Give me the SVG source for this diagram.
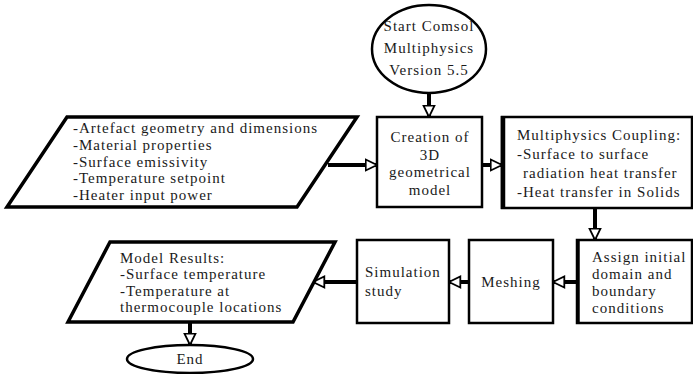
<svg xmlns="http://www.w3.org/2000/svg" width="693" height="374" viewBox="0 0 693 374">
<style>
.sh{fill:#fff;stroke:#000;stroke-width:2.5}
.pg{fill:#fff;stroke:#000;stroke-width:3.5;stroke-linejoin:miter}
text{font-family:'Liberation Serif',serif;font-size:15px;letter-spacing:1px;fill:#1a1a1a}
.c{text-anchor:middle}
.ln{stroke:#000;stroke-width:4;fill:none}
</style>
<defs>
<marker id="ah" viewBox="0 0 14 14" markerWidth="14" markerHeight="14" markerUnits="userSpaceOnUse" refX="12.5" refY="7" orient="auto">
<path d="M1.2,1.5 L12.5,7 L1.2,12.5 Z" fill="#fff" stroke="#000" stroke-width="1.8" stroke-linejoin="miter"/>
</marker>
</defs>
<rect width="693" height="374" fill="#fff"/>

<g id="connectors">
<line class="ln" x1="429" y1="93" x2="429" y2="117" marker-end="url(#ah)"/>
<line class="ln" x1="328" y1="165" x2="377" y2="165" marker-end="url(#ah)"/>
<line class="ln" x1="482" y1="165" x2="502" y2="165" marker-end="url(#ah)"/>
<line class="ln" x1="595" y1="208" x2="595" y2="240" marker-end="url(#ah)"/>
<line class="ln" x1="577" y1="282" x2="553" y2="282" marker-end="url(#ah)"/>
<line class="ln" x1="469" y1="282" x2="449" y2="282" marker-end="url(#ah)"/>
<line class="ln" x1="357" y1="282" x2="313" y2="282" marker-end="url(#ah)"/>
<line class="ln" x1="190" y1="322" x2="190" y2="345" marker-end="url(#ah)"/>
</g>

<g id="start">
<ellipse class="sh" cx="429" cy="49" rx="57" ry="44"/>
<text class="c" x="429" y="31">Start Comsol</text>
<text class="c" x="429" y="53">Multiphysics</text>
<text class="c" x="429" y="75">Version 5.5</text>
</g>

<g id="inputs">
<polygon class="pg" points="67,117 357,117 297,207 7,207"/>
<text x="73" y="133">-Artefact geometry and dimensions</text>
<text x="73" y="150">-Material properties</text>
<text x="73" y="167">-Surface emissivity</text>
<text x="73" y="183">-Temperature setpoint</text>
<text x="73" y="200">-Heater input power</text>
</g>

<g id="creation">
<rect class="sh" x="377" y="117" width="105" height="90"/>
<text class="c" x="430" y="142">Creation of</text>
<text class="c" x="430" y="160">3D</text>
<text class="c" x="430" y="177">geometrical</text>
<text class="c" x="430" y="195">model</text>
</g>

<g id="coupling">
<rect class="sh" x="502" y="117" width="190" height="91"/>
<line x1="503" y1="116" x2="503" y2="209" stroke="#000" stroke-width="4.5"/>
<text x="517" y="140">Multiphysics Coupling:</text>
<text x="517" y="159">-Surface to surface</text>
<text x="523" y="178">radiation heat transfer</text>
<text x="517" y="197">-Heat transfer in Solids</text>
</g>

<g id="assign">
<rect class="sh" x="577" y="240" width="115" height="83"/>
<line x1="578" y1="239" x2="578" y2="324" stroke="#000" stroke-width="3.5"/>
<text x="592" y="262">Assign initial</text>
<text x="592" y="279">domain and</text>
<text x="592" y="296">boundary</text>
<text x="592" y="313">conditions</text>
</g>

<g id="meshing">
<rect class="sh" x="469" y="240" width="84" height="83"/>
<text class="c" x="511" y="287">Meshing</text>
</g>

<g id="simulation">
<rect class="sh" x="357" y="240" width="92" height="83"/>
<text x="365" y="277">Simulation</text>
<text x="365" y="296">study</text>
</g>

<g id="results">
<polygon class="pg" points="110,242 335,242 293,322 68,322"/>
<text x="120" y="263">Model Results:</text>
<text x="120" y="279">-Surface temperature</text>
<text x="120" y="296">-Temperature at</text>
<text x="120" y="312">thermocouple locations</text>
</g>

<g id="end">
<ellipse class="sh" cx="190" cy="359" rx="63" ry="14"/>
<text class="c" x="190" y="364">End</text>
</g>
</svg>
